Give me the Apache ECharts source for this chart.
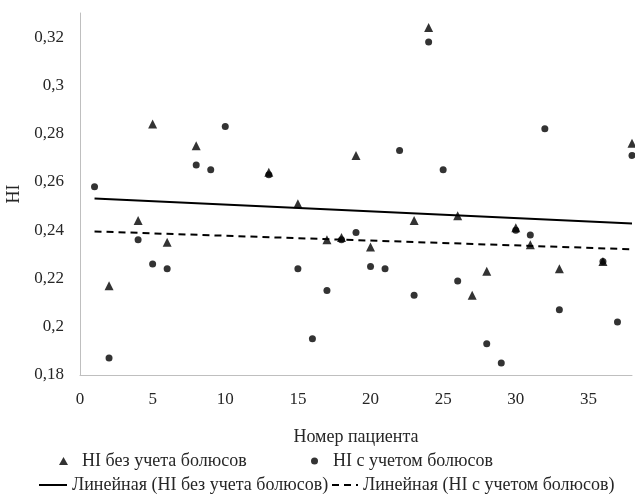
<!DOCTYPE html>
<html>
<head>
<meta charset="utf-8">
<script src="https://cdn.jsdelivr.net/npm/echarts@6/dist/echarts.min.js"></script>
<style>
  html, body { margin: 0; padding: 0; background: #fff; }
  #chart { width: 635px; height: 494px; }
</style>
</head>
<body>
<div id="chart"></div>
<script>
// HI без учета болюсов (треугольники)
const bezBolusov = [
  [2, 0.217], [4, 0.244], [5, 0.284], [6, 0.235], [8, 0.275], [13, 0.264],
  [15, 0.251], [17, 0.236], [18, 0.237], [19, 0.271], [20, 0.233], [23, 0.244],
  [24, 0.324], [26, 0.246], [27, 0.213], [28, 0.223], [30, 0.241], [31, 0.234],
  [33, 0.224], [36, 0.227], [38, 0.276]
];

// HI с учетом болюсов (точки)
const sBolusami = [
  [1, 0.258], [2, 0.187], [4, 0.236], [5, 0.226], [6, 0.224], [8, 0.267],
  [9, 0.265], [10, 0.283], [13, 0.263], [15, 0.224], [16, 0.195], [17, 0.215],
  [18, 0.236], [19, 0.239], [20, 0.225], [21, 0.224], [22, 0.273], [23, 0.213],
  [24, 0.318], [25, 0.265], [26, 0.219], [28, 0.193], [29, 0.185], [30, 0.240],
  [31, 0.238], [32, 0.282], [33, 0.207], [36, 0.227], [37, 0.202], [38, 0.271]
];

// линейные тренды (концы линий)
const trendBez = [[1, 0.2531], [38, 0.2428]];
const trendS = [[1, 0.2395], [38, 0.2321]];

const names = [
  "HI без учета болюсов",
  "HI с учетом болюсов",
  "Линейная (HI без учета болюсов)",
  "Линейная (HI с учетом болюсов)"
];

const font = "Liberation Serif";
const textColor = "#262626";

let myChart = echarts.init(document.getElementById("chart"));

function legendAt(name, left, top, extra, padLeft) {
  return Object.assign({
    data: [name],
    left: left,
    top: top,
    padding: 0,
    itemGap: 0,
    textStyle: {
      fontFamily: font, fontSize: 18, color: textColor,
      padding: [0, 0, 0, padLeft || 0]
    }
  }, extra || {});
}

let option = {
  animation: false,
  grid: { left: 80, top: 13, right: 3, bottom: 119, outerBoundsMode: "none" },
  xAxis: {
    type: "value",
    min: 0,
    max: 38,
    interval: 5,
    name: "Номер пациента",
    nameLocation: "middle",
    nameGap: 53,
    nameTextStyle: { fontFamily: font, fontSize: 18, color: textColor },
    axisLine: { lineStyle: { color: "#bfbfbf", width: 1 } },
    axisTick: { show: false },
    splitLine: { show: false },
    axisLabel: {
      showMaxLabel: false,
      margin: 16,
      fontFamily: font, fontSize: 17, color: textColor
    }
  },
  yAxis: {
    type: "value",
    min: 0.18,
    max: 0.33,
    interval: 0.02,
    name: "HI",
    nameLocation: "middle",
    nameGap: 55,
    nameTextStyle: { fontFamily: font, fontSize: 18, color: textColor },
    axisLine: { show: true, lineStyle: { color: "#bfbfbf", width: 1 } },
    axisTick: { show: false },
    splitLine: { show: false },
    axisLabel: {
      showMaxLabel: false,
      margin: 16,
      fontFamily: font, fontSize: 17, color: textColor,
      formatter: function (v) {
        return String(Math.round(v * 100) / 100).replace(".", ",");
      }
    }
  },
  legend: [
    legendAt(names[0], 59, 452, { itemWidth: 9, itemHeight: 8 }, 9),
    legendAt(names[1], 311, 452, { itemWidth: 7, itemHeight: 7 }, 10),
    legendAt(names[2], 38, 476, { itemWidth: 28, itemHeight: 2 }),
    legendAt(names[3], 331, 476, { itemWidth: 26, itemHeight: 2 })
  ],
  series: [
    {
      name: names[0],
      type: "scatter",
      symbol: "triangle",
      symbolSize: 9,
      itemStyle: { color: "#000" },
      data: bezBolusov
    },
    {
      name: names[1],
      type: "scatter",
      symbol: "circle",
      symbolSize: 7,
      itemStyle: { color: "#000" },
      data: sBolusami
    },
    {
      name: names[2],
      type: "line",
      symbol: "none",
      lineStyle: { color: "#000", width: 2, type: "solid" },
      itemStyle: { color: "#000" },
      data: trendBez
    },
    {
      name: names[3],
      type: "line",
      symbol: "none",
      lineStyle: { color: "#000", width: 2, type: [7, 5] },
      itemStyle: { color: "#000" },
      data: trendS
    }
  ]
};

myChart.setOption(option);
</script>
</body>
</html>
